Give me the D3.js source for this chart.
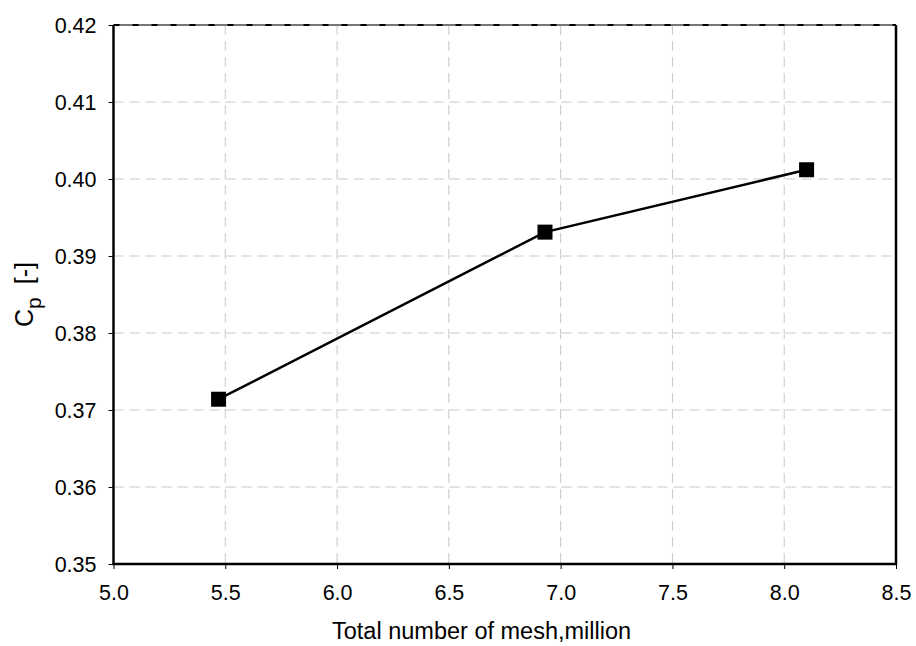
<!DOCTYPE html>
<html>
<head>
<meta charset="utf-8">
<script src="https://cdn.jsdelivr.net/npm/d3@7"></script>
<style>
  body { margin: 0; background: #fff; }
  text { font-family: "Liberation Sans", Arial, sans-serif; }
</style>
</head>
<body>
<div id="chart"></div>
<script>
// mesh size (million cells) vs power coefficient
const meshMillion = [5.47, 6.93, 8.10];
const cpValues = [0.3714, 0.3931, 0.4012];
const xTicks = [5.0, 5.5, 6.0, 6.5, 7.0, 7.5, 8.0, 8.5];
const yTicks = [0.35, 0.36, 0.37, 0.38, 0.39, 0.40, 0.41, 0.42];

const width = 916, height = 646;
const margin = { top: 25, right: 20, bottom: 82, left: 113.5 };

const svg = d3.select("#chart").append("svg")
    .attr("width", width)
    .attr("height", height);

const x = d3.scaleLinear().domain([5.0, 8.5]).range([margin.left, width - margin.right]);
const y = d3.scaleLinear().domain([0.35, 0.42]).range([height - margin.bottom, margin.top]);

// grid
svg.append("g").selectAll("line")
    .data(xTicks.slice(1, -1))
    .join("line")
    .attr("x1", d => x(d)).attr("x2", d => x(d))
    .attr("y1", y(0.42)).attr("y2", y(0.35))
    .attr("stroke", "#c8c8c8").attr("stroke-width", 1)
    .attr("stroke-dasharray", "10,6");

svg.append("g").selectAll("line")
    .data(yTicks.slice(1, -1))
    .join("line")
    .attr("x1", x(5.0)).attr("x2", x(8.5))
    .attr("y1", d => y(d)).attr("y2", d => y(d))
    .attr("stroke", "#c8c8c8").attr("stroke-width", 1)
    .attr("stroke-dasharray", "10,6");

// axes
const xAxis = svg.append("g")
    .attr("transform", `translate(0,${y(0.35)})`)
    .call(d3.axisBottom(x).tickValues(xTicks).tickFormat(d3.format(".1f")).tickSize(5).tickSizeOuter(0));
xAxis.select(".domain").remove();
xAxis.selectAll("text")
    .attr("font-size", 21.5).attr("fill", "#000")
    .attr("y", 36).attr("dy", 0);

const yAxis = svg.append("g")
    .attr("transform", `translate(${x(5.0)},0)`)
    .call(d3.axisLeft(y).tickValues(yTicks).tickFormat(d3.format(".2f")).tickSize(5).tickSizeOuter(0));
yAxis.select(".domain").remove();
yAxis.selectAll("text")
    .attr("font-size", 21.5).attr("fill", "#000")
    .attr("x", -17).attr("dy", "0.36em");

// frame
svg.append("line")
    .attr("x1", x(5.0)).attr("x2", x(8.5)).attr("y1", y(0.42)).attr("y2", y(0.42))
    .attr("stroke", "#777").attr("stroke-width", 2);
svg.append("line")
    .attr("x1", x(5.0)).attr("x2", x(8.5)).attr("y1", y(0.42)).attr("y2", y(0.42))
    .attr("stroke", "#000").attr("stroke-width", 2).attr("stroke-dasharray", "6,13");
svg.append("path")
    .attr("d", `M${x(8.5)},${y(0.42)}V${y(0.35)}H${x(5.0)}V${y(0.42)}`)
    .attr("fill", "none").attr("stroke", "#000").attr("stroke-width", 2.5);

// series
const pts = meshMillion.map((m, i) => [m, cpValues[i]]);
svg.append("path")
    .datum(pts)
    .attr("fill", "none").attr("stroke", "#000").attr("stroke-width", 2.5)
    .attr("d", d3.line().x(d => x(d[0])).y(d => y(d[1])));

const s = 15;
svg.append("g").selectAll("rect")
    .data(pts)
    .join("rect")
    .attr("x", d => x(d[0]) - s / 2)
    .attr("y", d => y(d[1]) - s / 2)
    .attr("width", s).attr("height", s)
    .attr("fill", "#000");

// titles
svg.append("text")
    .attr("x", 332)
    .attr("y", 639)
    .attr("font-size", 23.5)
    .text("Total number of mesh,million");

const yl = svg.append("text")
    .attr("transform", `translate(33,${(y(0.35) + y(0.42)) / 2}) rotate(-90)`)
    .attr("text-anchor", "middle")
    .attr("font-size", 25);
yl.append("tspan").text("C");
yl.append("tspan").attr("font-size", 21).attr("dy", 8).text("p");
yl.append("tspan").attr("dy", -8).attr("dx", 6).text(" [-]");
</script>
</body>
</html>
